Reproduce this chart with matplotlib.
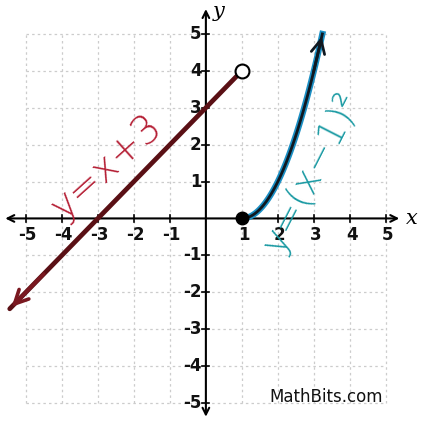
import matplotlib.pyplot as plt
import numpy as np

# piecewise function: y = x + 3 for x < 1, y = (x - 1)^2 for x >= 1
line_x = [-5.45, 1.0]
curve_x = np.linspace(1.0, 1 + np.sqrt(5), 60)
ticks = [-5, -4, -3, -2, -1, 1, 2, 3, 4, 5]
tick_labels = ["-5", "-4", "-3", "-2", "-1", "1", "2", "3", "4", "5"]

line_y = [x + 3 for x in line_x]
curve_y = (curve_x - 1) ** 2

fig = plt.figure(figsize=(4.24, 4.21), dpi=100)
ax = fig.add_axes([0, 0, 1, 1])
ax.set_xlim(-5.72, 6.06)
ax.set_ylim(-5.49, 5.92)
ax.axis("off")

# dotted grid bounded to the -5..5 square
for t in ticks:
    ax.plot([t, t], [-5, 5], color="#cccccc", lw=0.9, ls=(0, (2, 2.5)), zorder=1)
    ax.plot([-5, 5], [t, t], color="#cccccc", lw=0.9, ls=(0, (2, 2.5)), zorder=1)

# axes with arrowheads
ax.annotate("", xy=(5.45, 0), xytext=(-5.65, 0),
            arrowprops=dict(arrowstyle="<->", color="black", lw=1.5,
                            mutation_scale=12), zorder=2)
ax.annotate("", xy=(0, 5.75), xytext=(0, -5.45),
            arrowprops=dict(arrowstyle="<->", color="black", lw=1.5,
                            mutation_scale=12), zorder=2)

for t, lab in zip(ticks, tick_labels):
    ax.plot([t, t], [-0.1, 0.1], color="black", lw=1.2, zorder=2)
    ax.plot([-0.1, 0.1], [t, t], color="black", lw=1.2, zorder=2)
    ax.text(t + 0.05, -0.2, lab, ha="center", va="top", fontsize=12,
            fontweight="bold", color="#111111")
    ax.text(-0.12, t, lab, ha="right", va="center", fontsize=12,
            fontweight="bold", color="#111111")

ax.text(5.55, 0.0, "x", fontsize=15, family="DejaVu Serif", style="italic",
        va="center", ha="left")
ax.text(0.2, 5.6, "y", fontsize=15, family="DejaVu Serif", style="italic",
        va="center", ha="left")

# y = x + 3 branch, open circle at (1, 4)
ax.plot(line_x, line_y, color="#5a1015", lw=3.4, solid_capstyle="round", zorder=4)
ax.annotate("", xy=(line_x[0], line_y[0]), xytext=(line_x[0] + 1, line_y[0] + 1),
            arrowprops=dict(arrowstyle="->,head_length=0.7,head_width=0.35",
                            color="#7a1820", lw=2.6, mutation_scale=14), zorder=4)
ax.plot(line_x[1], line_y[1], "o", ms=10, mfc="white", mec="black", mew=1.5, zorder=5)

# y = (x - 1)^2 branch, closed dot at (1, 0)
ax.plot(curve_x, curve_y, color="#1b8fc4", lw=4.5, zorder=3)
ax.plot(curve_x, curve_y, color="#101820", lw=2.0, zorder=4)
ax.annotate("", xy=(curve_x[-1], curve_y[-1]), xytext=(curve_x[-8], curve_y[-8]),
            arrowprops=dict(arrowstyle="->,head_length=0.7,head_width=0.35",
                            color="#101820", lw=2, mutation_scale=14), zorder=4)
ax.plot(curve_x[0], curve_y[0], "o", ms=9, color="black", zorder=5)

# handwritten labels
ax.text(-2.75, 1.4, "y=x+3", fontsize=28, color="#b51f35", rotation=42,
        ha="center", va="center", family="DejaVu Sans", fontweight="light")
ax.text(2.95, 1.25, "y=(x\u22121)\u00b2", fontsize=27, color="#1a9aa3", rotation=63,
        ha="center", va="center", family="DejaVu Sans", fontweight="light")

ax.text(3.35, -4.85, "MathBits.com", fontsize=12, ha="center", va="center",
        color="#111111")

fig.savefig("out.png", dpi=100)
